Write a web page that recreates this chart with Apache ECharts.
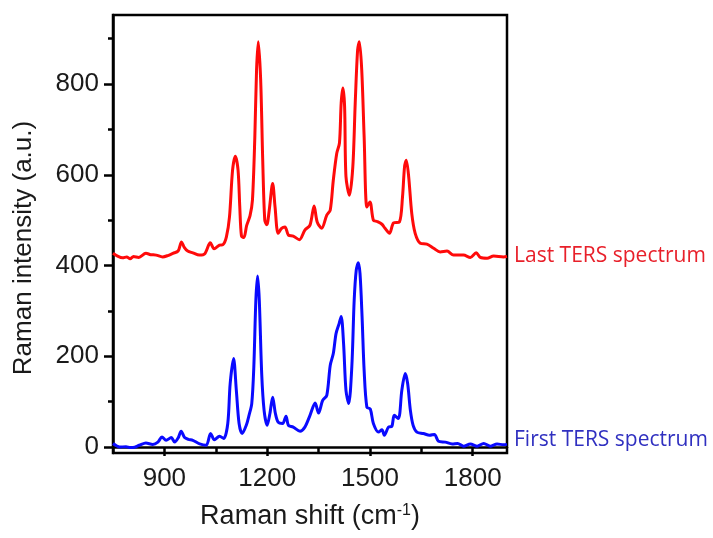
<!DOCTYPE html>
<html>
  <head>
    <meta charset="utf-8" />
    <title>TERS spectra</title>
    <script src="https://cdn.jsdelivr.net/npm/echarts@6/dist/echarts.min.js"></script>
    <style>
      body {
        margin: 0;
        padding: 0;
        background: #fff;
      }
      #main {
        width: 713px;
        height: 538px;
      }
    </style>
  </head>
  <body>
    <div id="main"></div>
    <script type="text/javascript">
      // Last TERS spectrum (red)
      var lastShift = [
        750, 765, 778, 790, 800, 810, 825, 846, 860, 876, 895, 910, 925, 940,
        950, 958, 968, 983, 1002, 1018, 1034, 1045, 1061, 1071, 1081, 1090,
        1099, 1107, 1115, 1120, 1125, 1132, 1140, 1150, 1157, 1164, 1169, 1174,
        1181, 1187, 1193, 1199, 1206, 1216, 1223, 1232, 1242, 1252, 1262, 1276,
        1294, 1310, 1325, 1337, 1346, 1359, 1374, 1384, 1393, 1403, 1411, 1416,
        1421, 1426, 1430, 1440, 1450, 1457, 1464, 1469, 1476, 1483, 1491, 1500,
        1510, 1521, 1535, 1544, 1557, 1569, 1586, 1595, 1601, 1606, 1613, 1622,
        1632, 1647, 1666, 1686, 1705, 1725, 1744, 1773, 1793, 1810, 1822, 1842,
        1861, 1890, 1900
      ];
      var lastIntensity = [
        427, 420, 417, 419, 415, 420, 418, 427, 424, 423, 419, 422, 427, 432,
        452, 440, 432, 428, 423, 426, 450, 437, 445, 446, 463, 507,
        610, 641, 610, 530, 465, 462, 488, 510, 544, 684, 831, 893,
        809, 632, 500, 490, 522, 581, 529, 471, 482, 485, 467, 465,
        457, 478, 489, 531, 496, 482, 511, 522, 588, 647, 670, 758,
        791, 750, 596, 555, 618, 758, 875, 893, 831, 684, 529, 540,
        500, 497, 491, 482, 471, 494, 496, 551, 618, 632, 596, 515,
        471, 449, 447, 438, 430, 432, 423, 423, 418, 428, 418, 416,
        421, 419, 420
      ];

      // First TERS spectrum (blue)
      var firstShift = [
        750, 760, 769, 788, 800, 808, 827, 846, 866, 881, 893, 905, 920, 930,
        940, 949, 959, 970, 983, 1003, 1022, 1035, 1046, 1061, 1073, 1085,
        1092, 1102, 1110, 1118, 1127, 1139, 1147, 1155, 1161, 1167, 1172, 1177,
        1184, 1191, 1200, 1208, 1216, 1224, 1232, 1245, 1255, 1262, 1276, 1296,
        1310, 1325, 1340, 1350, 1362, 1374, 1384, 1393, 1401, 1410, 1416, 1423,
        1430, 1438, 1447, 1454, 1460, 1466, 1471, 1477, 1483, 1491, 1501, 1510,
        1525, 1535, 1542, 1554, 1564, 1571, 1583, 1593, 1603, 1610, 1618, 1626,
        1637, 1656, 1674, 1688, 1700, 1720, 1740, 1756, 1773, 1793, 1813, 1832,
        1851, 1871, 1890, 1900
      ];
      var firstIntensity = [
        8, 3, 0, 1, -1, -1, 4, 9, 6, 11, 22, 15, 21, 11,
        20, 35, 21, 17, 15, 7, 4, 30, 16, 24, 19, 52,
        140, 195, 125, 52, 30, 48, 70, 96, 176, 324, 377, 324,
        162, 81, 48, 74, 110, 74, 55, 52, 68, 48, 44, 35,
        44, 70, 97, 75, 103, 114, 180, 206, 250, 272, 288, 228,
        125, 96, 176, 324, 390, 406, 382, 287, 169, 88, 84, 52,
        33, 38, 26, 44, 46, 70, 63, 125, 162, 140, 81, 48,
        33, 30, 26, 28, 13, 11, 7, 8, 2, 7, 2, 8,
        2, 7, 5, 6
      ];

      var xMajorTicks = [900, 1200, 1500, 1800];
      var xMinorTicks = [1050, 1350, 1650];
      var yMajorTicks = [0, 200, 400, 600, 800];
      var yMinorTicks = [100, 300, 500, 700, 900];

      function zip(xs, ys) {
        return xs.map(function (x, i) {
          return [x, ys[i]];
        });
      }

      // plain numbers, no thousands separator
      function plain(v) {
        return String(v);
      }

      var font = "Liberation Sans";
      var myChart = echarts.init(document.getElementById("main"));

      var option = {
        animation: false,
        backgroundColor: "#fff",
        grid: {
          left: 113,
          right: 206,
          top: 15,
          bottom: 85,
          show: true,
          borderColor: "#000",
          borderWidth: 2.5,
        },
        xAxis: [
          {
            type: "value",
            min: 750,
            max: 1900,
            position: "bottom",
            name: "Raman shift (cm{sup|-1})",
            nameLocation: "middle",
            nameGap: 50,
            nameTextStyle: {
              fontFamily: font,
              fontSize: 27,
              color: "#1a1a1a",
              rich: {
                sup: {
                  fontFamily: font,
                  fontSize: 16,
                  color: "#1a1a1a",
                  verticalAlign: "top",
                },
              },
            },
            axisLine: { show: true, lineStyle: { color: "#000", width: 2.5 } },
            axisTick: {
              show: true,
              customValues: xMajorTicks,
              length: 9,
              lineStyle: { color: "#000", width: 2.5 },
            },
            axisLabel: {
              customValues: xMajorTicks,
              formatter: plain,
              fontFamily: font,
              fontSize: 26,
              color: "#1a1a1a",
              margin: 13,
            },
            splitLine: { show: false },
          },
          {
            type: "value",
            min: 750,
            max: 1900,
            position: "bottom",
            axisLine: { show: false },
            axisTick: {
              show: true,
              customValues: xMinorTicks,
              length: 5,
              lineStyle: { color: "#000", width: 2.5 },
            },
            axisLabel: { show: false },
            splitLine: { show: false },
          },
        ],
        yAxis: [
          {
            type: "value",
            min: -13,
            max: 952,
            position: "left",
            axisLine: { show: true, lineStyle: { color: "#000", width: 2.5 } },
            axisTick: {
              show: true,
              customValues: yMajorTicks,
              length: 9,
              lineStyle: { color: "#000", width: 2.5 },
            },
            axisLabel: {
              customValues: yMajorTicks,
              formatter: plain,
              fontFamily: font,
              fontSize: 26,
              color: "#1a1a1a",
              margin: 14,
            },
            splitLine: { show: false },
          },
          {
            type: "value",
            min: -13,
            max: 952,
            position: "left",
            axisLine: { show: false },
            axisTick: {
              show: true,
              customValues: yMinorTicks,
              length: 5,
              lineStyle: { color: "#000", width: 2.5 },
            },
            axisLabel: { show: false },
            splitLine: { show: false },
          },
        ],
        graphic: [
          {
            type: "text",
            x: 24,
            y: 248,
            rotation: Math.PI / 2,
            style: {
              text: "Raman intensity (a.u.)",
              font: '26px "Liberation Sans"',
              fill: "#1a1a1a",
              textAlign: "center",
              textVerticalAlign: "middle",
            },
          },
          {
            type: "text",
            x: 514,
            y: 256,
            style: {
              text: "Last TERS spectrum",
              font: '21px "Open Sans"',
              fill: "#e8202a",
              textAlign: "left",
              textVerticalAlign: "middle",
            },
          },
          {
            type: "text",
            x: 514,
            y: 440,
            style: {
              text: "First TERS spectrum",
              font: '21px "Open Sans"',
              fill: "#3030c0",
              textAlign: "left",
              textVerticalAlign: "middle",
            },
          },
        ],
        series: [
          {
            name: "First TERS spectrum",
            type: "line",
            data: zip(firstShift, firstIntensity),
            showSymbol: false,
            smooth: 0.3,
            lineStyle: { color: "#0a0aff", width: 3 },
          },
          {
            name: "Last TERS spectrum",
            type: "line",
            data: zip(lastShift, lastIntensity),
            showSymbol: false,
            smooth: 0.3,
            lineStyle: { color: "#ff0a0a", width: 3 },
          },
        ],
      };

      myChart.setOption(option);
    </script>
  </body>
</html>
